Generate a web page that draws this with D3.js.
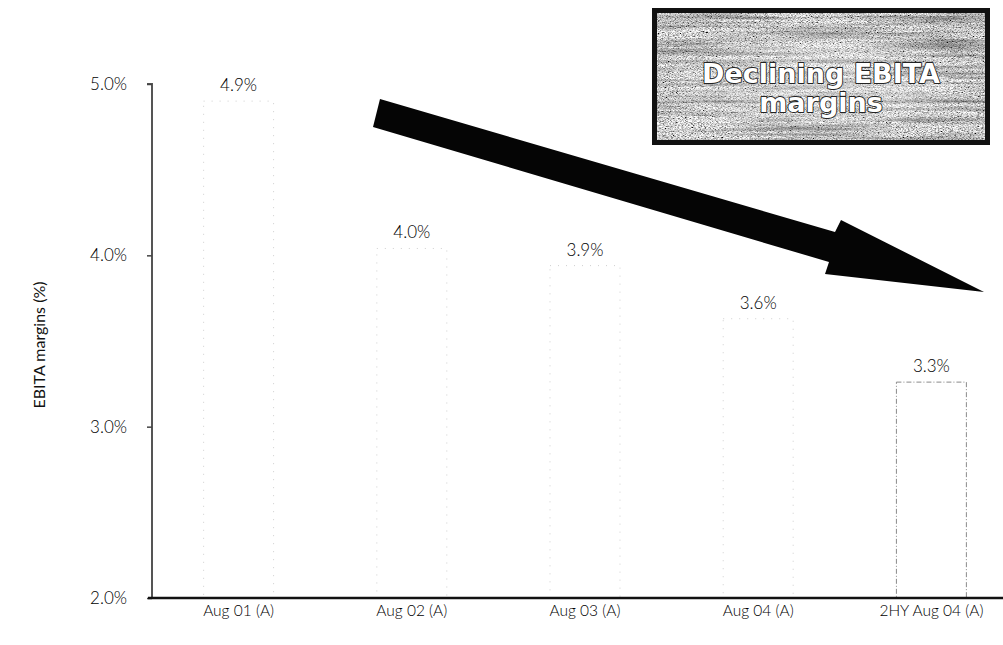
<!DOCTYPE html>
<html>
<head>
<meta charset="utf-8">
<script src="https://cdn.jsdelivr.net/npm/d3@7"></script>
<style>
  html, body { margin: 0; padding: 0; background: #fff; }
  svg { display: block; }
</style>
</head>
<body>
<svg id="chart" width="1003" height="645"></svg>
<script>
// ---- data ----
const categories = ["Aug 01 (A)", "Aug 02 (A)", "Aug 03 (A)", "Aug 04 (A)", "2HY Aug 04 (A)"];
const margins = [4.9, 4.04, 3.94, 3.63, 3.26];
const yTicks = [2, 3, 4, 5];
const yTitle = "EBITA margins (%)";
const calloutLines = ["Declining EBITA", "margins"];

(function () {
const svg = d3.select("#chart");
const W = 1003, H = 645;
const pLeft = 152, pRight = 1018, pTop = 84, pBottom = 598;

const x = d3.scaleBand().domain(categories).range([pLeft, pRight]).paddingInner(0.596).paddingOuter(0.298);
const y = d3.scaleLinear().domain([2, 5]).range([pBottom, pTop]);

const defs = svg.append("defs");
const f = defs.append("filter").attr("id", "noise").attr("x", 0).attr("y", 0).attr("width", "100%").attr("height", "100%");
f.append("feTurbulence").attr("type", "fractalNoise").attr("baseFrequency", "0.6 1.2").attr("numOctaves", 2).attr("seed", 7).attr("result", "t1");
f.append("feColorMatrix").attr("in", "t1").attr("type", "matrix")
  .attr("values", "2.0 0 0 0 -0.35  2.0 0 0 0 -0.35  2.0 0 0 0 -0.35  0 0 0 0 1").attr("result", "g1");
f.append("feTurbulence").attr("type", "fractalNoise").attr("baseFrequency", "0.008 0.25").attr("numOctaves", 3).attr("seed", 3).attr("result", "t2");
f.append("feColorMatrix").attr("in", "t2").attr("type", "matrix")
  .attr("values", "1.5 0 0 0 0.05  1.5 0 0 0 0.05  1.5 0 0 0 0.05  0 0 0 0 1").attr("result", "g2");
f.append("feBlend").attr("in", "g1").attr("in2", "g2").attr("mode", "multiply");
const rg = defs.append("radialGradient").attr("id", "glow").attr("cx", "50%").attr("cy", "55%").attr("r", "50%");
rg.append("stop").attr("offset", "0%").attr("stop-color", "#fff").attr("stop-opacity", 0.45);
rg.append("stop").attr("offset", "100%").attr("stop-color", "#fff").attr("stop-opacity", 0);

const fontFam = "Lato, 'Open Sans', sans-serif";

// bars
svg.append("g").selectAll("rect").data(margins).join("rect")
  .attr("x", (d, i) => x(categories[i]))
  .attr("y", d => y(d))
  .attr("width", x.bandwidth())
  .attr("height", d => y(2) - y(d))
  .attr("fill", "#fff")
  .attr("stroke", (d, i) => i === margins.length - 1 ? "#8a8a8a" : "#cfcfcf")
  .attr("stroke-width", 1)
  .attr("stroke-dasharray", (d, i) => i === margins.length - 1 ? "5,2,1,2" : "1,7");

// value labels
svg.append("g").selectAll("text").data(margins).join("text")
  .attr("x", (d, i) => x(categories[i]) + x.bandwidth() / 2)
  .attr("y", d => y(d) - 10)
  .attr("text-anchor", "middle")
  .attr("font-family", fontFam)
  .attr("font-weight", 300)
  .attr("font-size", 17)
  .attr("fill", "#000")
  .text(d => d.toFixed(1) + "%");

// y axis
const yAxis = svg.append("g").attr("transform", `translate(${pLeft},0)`)
  .call(d3.axisLeft(y).tickValues(yTicks).tickSize(5).tickPadding(20).tickFormat(d => d.toFixed(1) + "%"));
yAxis.select(".domain").attr("stroke", "#555").attr("stroke-width", 2).attr("d", `M-5,${pTop}H0V${pBottom}`);
yAxis.selectAll(".tick line").attr("stroke", "#444").attr("stroke-width", 1.5);
yAxis.selectAll(".tick text").attr("font-family", fontFam).attr("font-weight", 300).attr("font-size", 17).attr("fill", "#000");

// x axis
const xAxis = svg.append("g").attr("transform", `translate(0,${pBottom})`)
  .call(d3.axisBottom(x).tickSize(0).tickPadding(7));
xAxis.select(".domain").attr("stroke", "#111").attr("stroke-width", 2.5).attr("d", `M${pLeft - 4},0H${W}`);
xAxis.selectAll(".tick text").attr("font-family", fontFam).attr("font-weight", 300).attr("font-size", 15.5).attr("fill", "#000");

// y title
svg.append("text")
  .attr("transform", `translate(45,${345}) rotate(-90)`)
  .attr("text-anchor", "middle")
  .attr("font-family", fontFam)
  .attr("font-size", 16)
  .attr("fill", "#111")
  .text(yTitle);

// arrow annotation
const arrowPts = [[380, 99], [835, 232], [841, 220], [984, 292], [825, 274], [829, 262], [373, 127]];
svg.append("path")
  .attr("d", d3.line()(arrowPts) + "Z")
  .attr("fill", "#050505");

// callout box
const bx = 652, by = 8, bw = 338, bh = 137;
const box = svg.append("g");
box.append("rect").attr("x", bx).attr("y", by).attr("width", bw).attr("height", bh).attr("fill", "#999");
box.append("rect").attr("x", bx).attr("y", by).attr("width", bw).attr("height", bh).attr("filter", "url(#noise)");
box.append("rect").attr("x", bx).attr("y", by).attr("width", bw).attr("height", bh).attr("fill", "url(#glow)");
box.append("rect").attr("x", bx + 2.5).attr("y", by + 2.5).attr("width", bw - 5).attr("height", bh - 5)
  .attr("fill", "none").attr("stroke", "#111").attr("stroke-width", 5);
box.selectAll("text").data(calloutLines).join("text")
  .attr("x", bx + bw / 2)
  .attr("y", (d, i) => 83 + i * 29)
  .attr("text-anchor", "middle")
  .attr("font-family", "'DejaVu Sans', sans-serif")
  .attr("font-weight", "bold")
  .attr("font-size", 27)
  .attr("fill", "#fff")
  .attr("stroke", "#222")
  .attr("stroke-width", 1.8)
  .attr("stroke-linejoin", "round")
  .attr("paint-order", "stroke")
  .text(d => d);
})();
</script>
</body>
</html>
